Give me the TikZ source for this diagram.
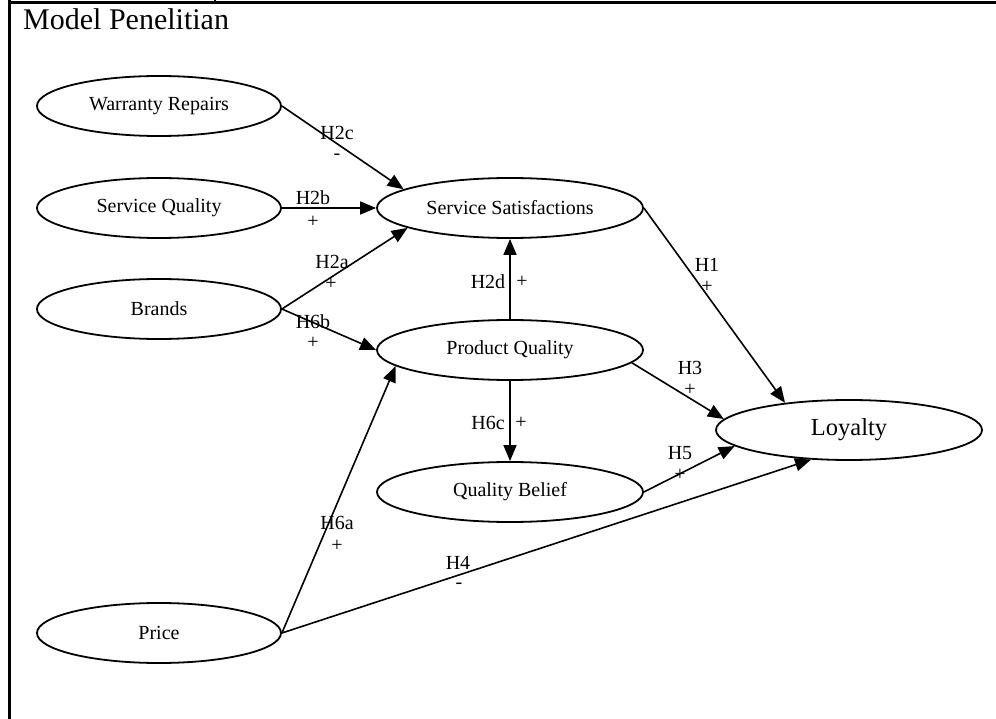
\documentclass[tikz,border=0pt]{standalone}
\usepackage{fontspec}
\setmainfont{Liberation Serif}
\usetikzlibrary{shapes.geometric,arrows.meta}
\begin{document}
\begin{tikzpicture}[x=1pt,y=-1pt,
  construct/.style={ellipse,draw,line width=1.8pt,inner sep=0pt,
    minimum width=#1,minimum height=60pt,font=\fontsize{20}{23}\selectfont},
  construct/.default=244pt,
  link/.style={line width=1.6pt,-{Triangle[length=16pt,width=13pt]}},
  lab/.style={inner sep=0pt,font=\fontsize{20}{23}\selectfont},
  frameline/.style={line width=#1}]
\useasboundingbox (0,0) rectangle (996,719);

% page frame
\draw[frameline=3.5pt] (9.5,0) -- (9.5,719);
\draw[frameline=2.5pt] (8,2.3) -- (996,2.3);
\draw[frameline=1.3pt] (215,0) -- (215,2.3);

\node[anchor=base west,inner sep=0pt,font=\fontsize{30}{33}\selectfont] (title) at (23,30) {Model Penelitian};

% constructs
\node[construct] (wr) at (159,106) {Warranty Repairs};
\node[construct] (sq) at (159,208) {Service Quality};
\node[construct] (br) at (159,309) {Brands};
\node[construct] (pr) at (159,633) {Price};
\node[construct=266pt] (ss) at (510,208) {Service Satisfactions};
\node[construct=266pt] (pq) at (510,350) {Product Quality};
\node[construct=266pt] (qb) at (510,492) {Quality Belief};
\node[construct=266pt,font=\fontsize{24.5}{28}\selectfont] (loy) at (849,430) {Loyalty};

% hypothesised paths
\draw[link] (wr.east) -- (ss.170);
\draw[link] (sq.east) -- (ss.west);
\draw[link] (br.east) -- (ss.191);
\draw[link] (br.east) -- (pq.west);
\draw[link] (pq.north) -- (ss.south);
\draw[link] (pq.south) -- (qb.north);
\draw[link] (ss.east) -- (loy.157);
\draw[link] (pq.354) -- (loy.175);
\draw[link] (qb.east) -- (loy.188);
\draw[link] (pr.east) -- (loy.218);
\draw[link] (pr.east) -- (pq.188);

% path labels
\node[lab] (h2c) at (337,133) {H2c};  \node[lab] (s2c) at (337,157) {-};
\node[lab] (h2b) at (313,198) {H2b};  \node[lab] (s2b) at (313,222) {+};
\node[lab] (h2a) at (332,262) {H2a};  \node[lab] (s2a) at (331,284) {+};
\node[lab] (h6b) at (313,322) {H6b};  \node[lab] (s6b) at (313,343) {+};
\node[lab] (h2d) at (488,282) {H2d};  \node[lab] (s2d) at (522,282) {+};
\node[lab] (h6c) at (488,423) {H6c};  \node[lab] (s6c) at (521,423) {+};
\node[lab] (h1)  at (707,265) {H1};   \node[lab] (s1)  at (707,287) {+};
\node[lab] (h3)  at (690,368) {H3};   \node[lab] (s3)  at (690,390) {+};
\node[lab] (h5)  at (680,453) {H5};   \node[lab] (s5)  at (680,475) {+};
\node[lab] (h4)  at (458,563) {H4};   \node[lab] (s4)  at (459,586) {-};
\node[lab] (h6a) at (337,523) {H6a};  \node[lab] (s6a) at (337,546) {+};
\end{tikzpicture}
\end{document}
